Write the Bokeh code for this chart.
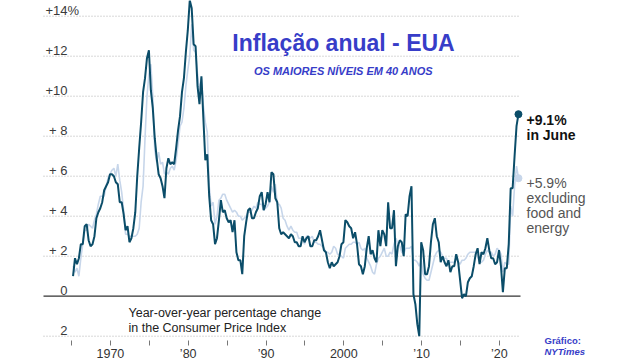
from bokeh.plotting import figure
from bokeh.models import ColumnDataSource, FixedTicker, Range1d
from bokeh.core.properties import value
from bokeh.embed import file_html
from bokeh.resources import INLINE

# ---------------- data (quarterly readings, Mar/Jun/Sep/Dec) ----------------
first_period = 1965.2
period_step = 0.25

headline = [
    1.0, 1.9, 1.6, 1.9,   # 1965
    2.6, 2.6, 3.5, 3.6,   # 1966
    2.8, 2.5, 2.6, 3.0,   # 1967
    3.9, 4.2, 4.4, 4.7,   # 1968
    5.3, 5.5, 5.7, 6.1,   # 1969
    6.1, 6.0, 5.7, 5.6,   # 1970
    4.7, 4.7, 4.1, 3.3,   # 1971
    3.5, 2.7, 2.9, 3.4,   # 1972
    4.2, 6.0, 7.4, 8.7,   # 1973
    10.2, 10.9, 11.9, 12.3,  # 1974
    10.3, 9.4, 7.9, 6.9,  # 1975
    6.1, 5.9, 5.5, 4.9,   # 1976
    6.4, 6.9, 6.6, 6.7,   # 1977
    6.6, 7.4, 8.3, 9.0,   # 1978
    10.2, 10.9, 12.2, 13.3,  # 1979
    14.8, 14.4, 12.6, 12.5,  # 1980
    10.5, 9.6, 11.0, 8.9,  # 1981
    6.8, 7.1, 5.0, 3.8,   # 1982
    3.6, 2.6, 2.9, 3.8,   # 1983
    4.8, 4.2, 4.3, 3.9,   # 1984
    3.7, 3.8, 3.2, 3.8,   # 1985
    2.2, 1.8, 1.8, 1.1,   # 1986
    3.0, 3.7, 4.3, 4.4,   # 1987
    3.9, 3.9, 4.2, 4.4,   # 1988
    5.0, 5.2, 4.3, 4.6,   # 1989
    5.2, 4.7, 6.2, 6.1,   # 1990
    4.9, 4.7, 3.4, 3.1,   # 1991
    3.2, 3.1, 3.0, 2.9,   # 1992
    3.1, 3.0, 2.7, 2.7,   # 1993
    2.5, 2.5, 3.0, 2.7,   # 1994
    2.9, 3.0, 2.5, 2.5,   # 1995
    2.8, 2.8, 3.0, 3.3,   # 1996
    2.8, 2.3, 2.2, 1.7,   # 1997
    1.4, 1.7, 1.5, 1.6,   # 1998
    1.7, 2.0, 2.6, 2.7,   # 1999
    3.8, 3.7, 3.5, 3.4,   # 2000
    2.9, 3.2, 2.6, 1.6,   # 2001
    1.5, 1.1, 1.5, 2.4,   # 2002
    3.0, 2.1, 2.3, 1.9,   # 2003
    1.7, 3.3, 2.5, 3.3,   # 2004
    3.1, 2.5, 4.7, 3.4,   # 2005
    3.4, 4.3, 1.5, 2.5,   # 2006
    2.8, 2.7, 2.0, 4.1,   # 2007
    4.0, 5.0, 5.5, 0.1,   # 2008
    -0.4, -1.4, -2.0, 2.7,  # 2009
    2.3, 1.1, 1.1, 1.5,   # 2010
    2.7, 3.6, 3.9, 3.0,   # 2011
    2.7, 1.7, 2.0, 1.7,   # 2012
    1.5, 1.8, 1.2, 1.5,   # 2013
    1.5, 2.1, 1.7, 0.8,   # 2014
    -0.1, 0.1, 0.0, 0.7,  # 2015
    0.9, 1.0, 1.5, 2.1,   # 2016
    2.4, 1.6, 2.2, 2.1,   # 2017
    2.4, 2.9, 2.3, 1.9,   # 2018
    1.9, 1.6, 1.7, 2.3,   # 2019
    1.5, 0.2, 1.4, 1.4,   # 2020
    2.6, 5.4, 5.4, 7.0,   # 2021
    8.5, 9.1,             # 2022
]

core = [
    1.5, 1.2, 1.4, 1.0,   # 1965
    1.9, 2.6, 3.3, 3.3,   # 1966
    3.6, 3.5, 3.4, 3.8,   # 1967
    4.1, 4.6, 5.0, 5.0,   # 1968
    5.0, 5.5, 5.9, 6.1,   # 1969
    6.3, 6.4, 6.0, 6.6,   # 1970
    5.8, 5.2, 4.3, 3.1,   # 1971
    3.1, 3.0, 3.0, 3.0,   # 1972
    3.0, 3.1, 3.4, 4.7,   # 1973
    5.5, 7.9, 10.0, 11.1,  # 1974
    11.6, 10.0, 7.3, 6.7,  # 1975
    7.2, 6.6, 6.7, 6.1,   # 1976
    6.2, 6.1, 6.4, 6.5,   # 1977
    6.3, 6.8, 7.6, 8.5,   # 1978
    8.7, 9.4, 10.5, 11.3,  # 1979
    12.0, 13.6, 12.3, 12.2,  # 1980
    11.1, 10.3, 10.9, 9.5,  # 1981
    8.7, 8.2, 5.5, 4.5,   # 1982
    4.7, 3.6, 4.0, 4.8,   # 1983
    4.9, 5.1, 5.1, 4.8,   # 1984
    4.6, 4.4, 4.2, 4.3,   # 1985
    4.2, 4.0, 4.0, 3.8,   # 1986
    3.9, 4.0, 4.2, 4.2,   # 1987
    4.3, 4.5, 4.4, 4.7,   # 1988
    4.6, 4.6, 4.3, 4.4,   # 1989
    4.5, 4.7, 5.5, 5.2,   # 1990
    5.6, 4.6, 4.6, 4.4,   # 1991
    3.9, 3.8, 3.5, 3.3,   # 1992
    3.5, 3.3, 3.2, 3.2,   # 1993
    2.9, 2.9, 2.9, 2.6,   # 1994
    3.0, 3.0, 2.9, 3.0,   # 1995
    2.7, 2.7, 2.6, 2.6,   # 1996
    2.5, 2.4, 2.2, 2.2,   # 1997
    2.1, 2.2, 2.5, 2.4,   # 1998
    2.1, 2.1, 2.0, 1.9,   # 1999
    2.4, 2.5, 2.6, 2.6,   # 2000
    2.7, 2.7, 2.6, 2.7,   # 2001
    2.4, 2.3, 2.4, 1.9,   # 2002
    1.7, 1.5, 1.2, 1.1,   # 2003
    1.6, 1.9, 2.0, 2.2,   # 2004
    2.4, 2.0, 2.0, 2.2,   # 2005
    2.1, 2.6, 2.9, 2.6,   # 2006
    2.5, 2.2, 2.1, 2.4,   # 2007
    2.4, 2.4, 2.5, 1.8,   # 2008
    1.8, 1.7, 1.5, 1.8,   # 2009
    1.1, 0.9, 0.8, 0.8,   # 2010
    1.2, 1.6, 2.0, 2.2,   # 2011
    2.3, 2.2, 2.0, 1.9,   # 2012
    1.9, 1.6, 1.7, 1.7,   # 2013
    1.7, 1.9, 1.7, 1.6,   # 2014
    1.8, 1.8, 1.9, 2.1,   # 2015
    2.2, 2.2, 2.2, 2.2,   # 2016
    2.0, 1.7, 1.7, 1.8,   # 2017
    2.1, 2.3, 2.2, 2.2,   # 2018
    2.0, 2.1, 2.4, 2.3,   # 2019
    2.1, 1.2, 1.7, 1.6,   # 2020
    1.6, 4.5, 4.0, 5.5,   # 2021
    6.5, 5.9,             # 2022
]

periods = [first_period + period_step * i for i in range(len(headline))]

y_ticks = [14, 12, 10, 8, 6, 4, 2, 0, -2]
y_labels = ["+14%", "+12", "+10", "+ 8", "+ 6", "+ 4", "+ 2", "0", "2"]
x_decades = [1970, 1980, 1990, 2000, 2010, 2020]
x_labels = ["1970", "\u201980", "\u201990", "2000", "\u201910", "\u201920"]
x_minor = [1965, 1975, 1985, 1995, 2005, 2015]

title_text = "Inflação anual - EUA"
subtitle_text = "OS MAIORES NÍVEIS EM 40 ANOS"
note_lines = ["Year-over-year percentage change", "in the Consumer Price Index"]
headline_note = ["+9.1%", "in June"]
core_note = ["+5.9%", "excluding", "food and", "energy"]
credit_lines = ["Gráfico:", "NYTimes"]

# ---------------- layout helpers (page pixels -> data) ----------------
W, H = 641, 360
PX_1965 = 71.0
PX_PER_YEAR = 7.78
PY_ZERO = 295.7
PX_PER_PCT = 20.0
LABEL_LIFT = 5.5 / PX_PER_PCT   # tick labels sit just above their gridline


def fx(page_x):
    return 1965 + (page_x - PX_1965) / PX_PER_YEAR


def fy(page_y):
    return (PY_ZERO - page_y) / PX_PER_PCT


DARK = "#0b4d69"
LIGHT = "#c7d6ea"
BLUE = "#373dc8"
FONT = value("Liberation Sans")

p = figure(
    width=W, height=H,
    x_range=Range1d(fx(0), fx(W)),
    y_range=Range1d(fy(H), fy(0)),
    output_backend="svg", toolbar_location=None,
    y_axis_location=None, min_border=0,
    min_border_left=0, min_border_right=0, min_border_top=0, min_border_bottom=0,
    outline_line_color=None, background_fill_color="white", border_fill_color="white",
)
p.xgrid.visible = False
p.ygrid.visible = False

# x axis, drawn inside the canvas at a fixed value
ax = p.xaxis[0]
ax.fixed_location = fy(340)
ax.ticker = FixedTicker(ticks=x_decades, minor_ticks=x_minor)
ax.major_label_overrides = {t: lab for t, lab in zip(x_decades, x_labels)}
ax.axis_line_color = None
ax.major_tick_in = 0
ax.major_tick_out = 5
ax.minor_tick_in = 0
ax.minor_tick_out = 5
ax.major_tick_line_color = "#777777"
ax.minor_tick_line_color = "#777777"
ax.major_label_standoff = 1
ax.major_label_text_font = "Liberation Sans"
ax.major_label_text_font_size = "12.5px"
ax.major_label_text_color = "#333333"

# gridlines
grid_vals = [t for t in y_ticks if t != 0]
grid_src = ColumnDataSource(dict(y=grid_vals))
p.segment(x0=fx(43), x1=fx(520), y0="y", y1="y", source=grid_src,
          line_color="#b0b0b0", line_width=1, line_dash="1 2")
p.segment(x0=[fx(43)], x1=[fx(520)], y0=[0], y1=[0], line_color="#333333", line_width=1.3)

# y tick labels
lab_src = ColumnDataSource(dict(y=[t + LABEL_LIFT for t in y_ticks[1:]], t=y_labels[1:]))
p.text(x=fx(67), y="y", text="t", source=lab_src, text_align="right",
       text_baseline="alphabetic", text_font=FONT,
       text_font_size="13px", text_color="#3a3a3a")
p.text(x=[fx(45)], y=[y_ticks[0] + LABEL_LIFT], text=[y_labels[0]], text_align="left",
       text_baseline="alphabetic", text_font=FONT,
       text_font_size="13px", text_color="#3a3a3a")

# series
src = ColumnDataSource(dict(x=periods, h=headline, c=core))
p.line("x", "c", source=src, line_color=LIGHT, line_width=1.6)
p.line("x", "h", source=src, line_color=DARK, line_width=2)
p.scatter(x=[periods[-1]], y=[core[-1]], size=7, color=LIGHT)
p.scatter(x=[periods[-1]], y=[headline[-1]], size=7, color=DARK)

# annotations
p.text(x=fx(526), y=[fy(119.5), fy(134)], text=headline_note, text_font=FONT,
       text_font_size="14px", text_font_style="bold", text_color="#111111",
       text_baseline="alphabetic")
p.text(x=fx(526), y=[fy(182), fy(197), fy(212), fy(227)], text=core_note, text_font=FONT,
       text_font_size="14px", text_color="#555555", text_baseline="alphabetic")

p.text(x=fx(128), y=[fy(312), fy(327)], text=note_lines, text_font=FONT,
       text_font_size="12.5px", text_color="#222222", text_baseline="alphabetic")

p.text(x=[fx(343)], y=[fy(42)], text=[title_text], text_font=FONT, text_font_size="23px",
       text_font_style="bold", text_color=BLUE, text_align="center", text_baseline="alphabetic")
p.text(x=[fx(343)], y=[fy(70)], text=[subtitle_text], text_font=FONT, text_font_size="11px",
       text_font_style="bold italic", text_color=BLUE, text_align="center",
       text_baseline="alphabetic")

p.text(x=[fx(544)], y=[fy(340)], text=[credit_lines[0]], text_font=FONT, text_font_size="9.5px",
       text_font_style="bold", text_color=BLUE, text_baseline="alphabetic")
p.text(x=[fx(544)], y=[fy(351)], text=[credit_lines[1]], text_font=FONT, text_font_size="9.5px",
       text_font_style="bold italic", text_color=BLUE, text_baseline="alphabetic")

open("out.html", "w").write(file_html(p, INLINE))
